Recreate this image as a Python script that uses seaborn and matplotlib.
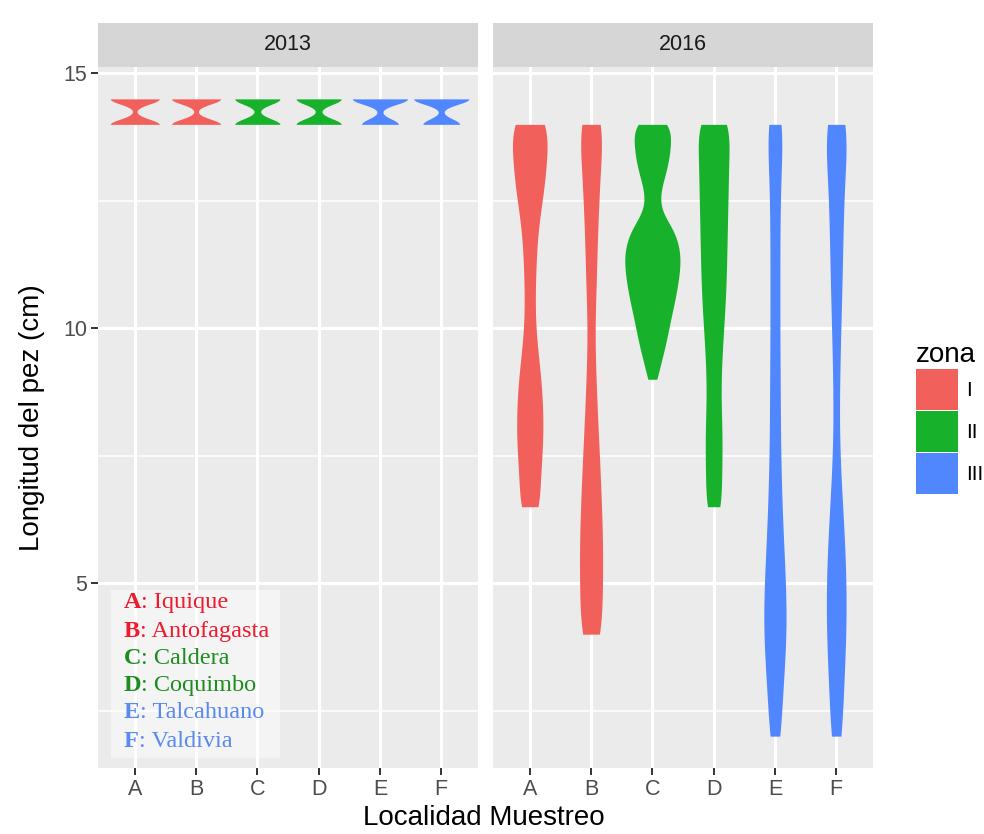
import numpy as np
import pandas as pd
import matplotlib
matplotlib.use("Agg")
import matplotlib.pyplot as plt
from matplotlib.patches import Patch, Rectangle
import seaborn as sns

# ---- data ----
sites = ["A", "B", "C", "D", "E", "F"]
site_names = ["Iquique", "Antofagasta", "Caldera", "Coquimbo", "Talcahuano", "Valdivia"]
site_zona = ["I", "I", "II", "II", "III", "III"]
zonas = ["I", "II", "III"]
zona_colors = ["#F2605C", "#18B12C", "#5087FF"]
text_colors = ["#F01A2E", "#1F8C1F", "#5A8AF0"]
years = ["2013", "2016"]

# 2013: fish measured at 14.0 or 14.5 cm (counts per length)
len_2013 = [14.0, 14.5]
n_2013 = {"A": [7, 7], "B": [7, 7], "C": [5, 5], "D": [5, 5], "E": [4, 6], "F": [4, 6]}

# 2016: lengths (cm) and number of fish at each length
len_A = [6.5, 7.0, 7.5, 8.0, 8.5, 9.0, 9.5, 10.0, 10.5, 11.0, 11.5, 12.0, 12.5, 13.0, 13.5, 14.0]
n_A = [22, 19, 24, 26, 25, 22, 16, 11, 10, 11, 13, 16, 24, 31, 33, 40]

len_B = [4.0, 4.5, 5.0, 5.5, 6.0, 6.5, 7.0, 7.5, 8.0, 8.5, 9.0, 9.5, 10.0, 10.5,
         11.0, 11.5, 12.0, 12.5, 13.0, 13.5, 14.0]
n_B = [27, 21, 23, 24, 23, 21, 19, 17, 14, 12, 10, 8, 7, 9, 11, 12, 13, 16, 18, 19, 34]

len_C = [9.0, 9.25, 9.5, 9.75, 10.0, 10.25, 10.5, 10.75, 11.0, 11.25, 11.5, 11.75,
         12.0, 12.25, 12.5, 12.75, 13.0, 13.25, 13.5, 13.75, 14.0]
n_C = [10, 15, 22, 28, 33, 38, 44, 49, 53, 56, 56, 50, 40, 18, 14, 17, 26, 32, 36, 37, 40]

len_D = [6.5, 7.0, 7.5, 8.0, 8.5, 9.0, 9.5, 10.0, 10.5, 11.0, 11.5, 12.0, 12.5, 13.0, 13.5, 14.0]
n_D = [15, 15, 16, 16, 14, 14, 16, 19, 22, 24, 25, 26, 27, 28, 29, 32]

len_EF = [2.0, 2.5, 3.0, 3.5, 4.0, 4.5, 5.0, 5.5, 6.0, 6.5, 7.0, 7.5, 8.0, 8.5, 9.0,
          9.5, 10.0, 10.5, 11.0, 11.5, 12.0, 12.5, 13.0, 13.5, 14.0]
n_E = [17, 14, 18, 23, 26, 26, 24, 21, 18, 16, 14, 13, 12, 12, 12, 11, 11, 11, 11, 11, 11, 12, 13, 14, 27]
n_F = [16, 12, 15, 18, 20, 21, 20, 19, 16, 13, 10, 7, 6, 6, 7, 8, 9, 11, 12, 13, 14, 15, 17, 19, 36]

data_2016 = {"A": (len_A, n_A), "B": (len_B, n_B), "C": (len_C, n_C),
             "D": (len_D, n_D), "E": (len_EF, n_E), "F": (len_EF, n_F)}

rows = []
for s, z in zip(sites, site_zona):
    for v in np.repeat(len_2013, n_2013[s]):
        rows.append(("2013", s, z, v))
    lens, counts = data_2016[s]
    for v in np.repeat(lens, counts):
        rows.append(("2016", s, z, v))
df = pd.DataFrame(rows, columns=["year", "sitio", "zona", "longitud"])

# ---- figure ----
plt.rcParams["font.family"] = ["Liberation Sans", "DejaVu Sans"]
fig = plt.figure(figsize=(9.84, 8.34), dpi=100)

pal = dict(zip(zonas, zona_colors))
panel_left = [98 / 984, 493 / 984]
panel_w = 380 / 984
panel_b = 1 - 768 / 834
panel_h = 701 / 834
strip_b = 1 - 67 / 834
strip_h = 44 / 834

bw = {"2013": ("scott", 0.66), "2016": (0.16, 1.0)}

axes = []
for i, yr in enumerate(years):
    ax = fig.add_axes([panel_left[i], panel_b, panel_w, panel_h])
    axes.append(ax)
    sub = df[df["year"] == yr]
    sns.violinplot(data=sub, x="sitio", y="longitud", hue="zona", order=sites,
                   hue_order=zonas, palette=pal, saturation=1, cut=0, inner=None,
                   density_norm="area", common_norm=True, width=0.9, linewidth=0,
                   bw_method=bw[yr][0], bw_adjust=bw[yr][1], dodge=False,
                   legend=False, ax=ax)
    ax.set_facecolor("#EBEBEB")
    ax.set_xlim(-0.6, 5.6)
    ax.set_ylim(1.375, 15.125)
    ax.set_yticks([5, 10, 15])
    ax.set_yticks([2.5, 7.5, 12.5], minor=True)
    ax.set_axisbelow(True)
    ax.grid(which="major", color="white", lw=2.2)
    ax.grid(which="minor", axis="y", color="white", lw=1.1)
    for sp in ax.spines.values():
        sp.set_visible(False)
    ax.tick_params(which="major", length=5, width=1.4, color="#333333",
                   labelsize=15.5, labelcolor="#4D4D4D", pad=3)
    ax.tick_params(which="minor", length=0)
    ax.set_xlabel("")
    ax.set_ylabel("")
    if i == 1:
        ax.tick_params(axis="y", left=False, labelleft=False)

    sax = fig.add_axes([panel_left[i], strip_b, panel_w, strip_h])
    sax.set_facecolor("#D6D6D6")
    sax.set_xticks([])
    sax.set_yticks([])
    for sp in sax.spines.values():
        sp.set_visible(False)
    sax.text(0.5, 0.5, yr, ha="center", va="center", fontsize=15.5, color="#1A1A1A",
             transform=sax.transAxes)

# site key box in the 2013 panel
ax0 = axes[0]
ax0.add_patch(Rectangle((0.034, 0.0143), 0.445, 0.24, transform=ax0.transAxes,
                        facecolor="white", alpha=0.45, edgecolor="none", zorder=3))
line_y = [0.2354, 0.1954, 0.1569, 0.1170, 0.0785, 0.0385]
for k, (s, name, z) in enumerate(zip(sites, site_names, site_zona)):
    col = text_colors[zonas.index(z)]
    t = ax0.text(0.0684, line_y[k], s, transform=ax0.transAxes, ha="left", va="center",
                 fontsize=17.5, fontweight="bold", family="Liberation Serif", color=col,
                 zorder=4)
    ax0.annotate(": " + name, xy=(1, 0), xycoords=t, ha="left", va="bottom",
                 fontsize=17.5, family="Liberation Serif", color=col, zorder=4)

fig.text(32 / 984, 1 - 418 / 834, "Longitud del pez (cm)", rotation=90,
         ha="center", va="center", fontsize=20)
fig.text(484 / 984, 1 - 818 / 834, "Localidad Muestreo", ha="center", va="center",
         fontsize=20)

handles = [Patch(facecolor=c, edgecolor="none") for c in zona_colors]
fig.legend(handles, zonas, title="zona", loc="center left",
           bbox_to_anchor=(916 / 984, 1 - 418 / 834), frameon=False, fontsize=15,
           title_fontsize=20, handlelength=2.0, handleheight=2.65, labelspacing=0.05,
           handletextpad=0.4, alignment="left", borderpad=0, borderaxespad=0)

fig.savefig("out.png", dpi=100)
